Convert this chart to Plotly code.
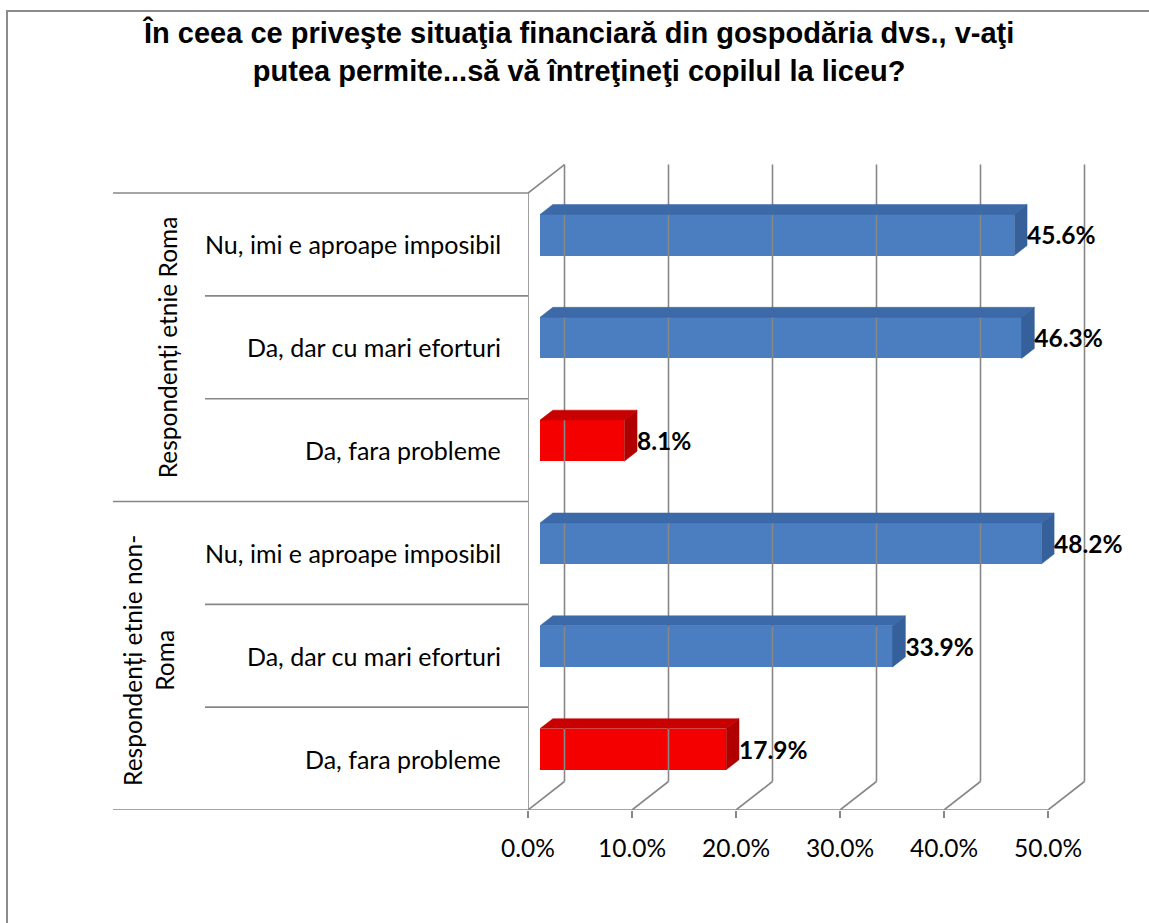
import plotly.graph_objects as go

# ---------------- data ----------------
groups = ["Respondenți etnie Roma", "Respondenți etnie non-<br>Roma"]
answers = ["Nu, imi e aproape imposibil", "Da, dar cu mari eforturi", "Da, fara probleme"]
roma_values = [45.6, 46.3, 8.1]
nonroma_values = [48.2, 33.9, 17.9]
tick_values = [0, 10, 20, 30, 40, 50]
tick_labels = ["0.0%", "10.0%", "20.0%", "30.0%", "40.0%", "50.0%"]
title_lines = ["În ceea ce priveşte situaţia financiară din gospodăria dvs., v-aţi",
               "putea permite...să vă întreţineţi copilul la liceu?"]

# ---------------- layout geometry ----------------
WIDTH, HEIGHT = 1149, 923
ML, MR, MT, MB = 528, 9, 150, 113
PW = WIDTH - ML - MR
PH = HEIGHT - MT - MB
XPX = 10.4          # px per percent
YPX = 102.83        # px per row
XMAX = PW / XPX
YMAX = PH / YPX
DX = 36.5 / XPX     # 3-D depth offset (x units)
DY = 28.5 / YPX     # 3-D depth offset (y units)
F1, F2 = 0.33, 0.68  # bar depth (front, back fractions)
BAR_H = 0.40

GRID = "#878787"
BLUE = dict(front="#4A7EC1", top="#3C69A8", side="#35609A")
RED = dict(front="#F50000", top="#C80000", side="#B00000")
FONT = "Lato"


def px_x(px):
    return (px - ML) / PW


def px_y(py):
    return (HEIGHT - MB - py) / PH


values = roma_values + nonroma_values
labels = answers + answers
centers = [5.5, 4.5, 3.5, 2.5, 1.5, 0.5]
palettes = [RED if a.startswith("Da, fara") else BLUE for a in labels]

fig = go.Figure()

# ---- 3-D walls / gridlines (derived from tick values) ----
gx, gy = [], []
for t in tick_values:
    gx += [t + DX, t + DX, None]
    gy += [DY, 6 + DY, None]
    gx += [t, t + DX, None]
    gy += [0, DY, None]
gx += [0, 0, None, 0, DX, None, 0, tick_values[-1], None]
gy += [0, 6, None, 6, 6 + DY, None, 0, 0, None]
fig.add_trace(go.Scatter(x=gx, y=gy, mode="lines", line=dict(color=GRID, width=1.6),
                         hoverinfo="skip", showlegend=False))

# ---- bars: top and side faces ----
for v, c, pal in zip(values, centers, palettes):
    x0 = F1 * DX
    x1 = F1 * DX + v
    yc = c + F1 * DY
    yt = yc + BAR_H / 2
    yb = yc - BAR_H / 2
    wdx = (F2 - F1) * DX
    wdy = (F2 - F1) * DY
    fig.add_trace(go.Scatter(x=[x0, x0 + wdx, x1 + wdx, x1, x0], y=[yt, yt + wdy, yt + wdy, yt, yt],
                             mode="lines", fill="toself", fillcolor=pal["top"],
                             line=dict(width=0.5, color=pal["top"]), hoverinfo="skip", showlegend=False))
    fig.add_trace(go.Scatter(x=[x1, x1 + wdx, x1 + wdx, x1, x1], y=[yt, yt + wdy, yb + wdy, yb, yt],
                             mode="lines", fill="toself", fillcolor=pal["side"],
                             line=dict(width=0.5, color=pal["side"]), hoverinfo="skip", showlegend=False))

# ---- value labels ----
fig.add_trace(go.Scatter(
    x=[v + F2 * DX for v in values], y=[c + 0.06 for c in centers],
    mode="text", text=[f"{v:.1f}%" for v in values], textposition="middle right",
    textfont=dict(family=FONT, size=24.5, color="black", weight="bold"),
    cliponaxis=False, hoverinfo="skip", showlegend=False))

# ---- bars: front faces ----
fig.add_trace(go.Bar(
    x=values, y=[c + F1 * DY for c in centers], base=F1 * DX, orientation="h",
    width=BAR_H, marker=dict(color=[p["front"] for p in palettes], line=dict(width=0)),
    hoverinfo="skip", showlegend=False))

# ---- category axis decoration ----
shapes = []
for y in [6, 3, 0]:
    shapes.append(dict(type="line", xref="paper", yref="y", x0=px_x(113), x1=0, y0=y, y1=y,
                       line=dict(color=GRID, width=1.6)))
for y in [5, 4, 2, 1]:
    shapes.append(dict(type="line", xref="paper", yref="y", x0=px_x(205), x1=0, y0=y, y1=y,
                       line=dict(color=GRID, width=1.6)))
shapes.append(dict(type="rect", xref="paper", yref="paper", x0=px_x(7), x1=px_x(1170),
                   y0=px_y(940), y1=px_y(11), line=dict(color="#8C8C8C", width=2)))

annotations = []
for lab, c in zip(labels, centers):
    annotations.append(dict(text=lab, xref="paper", yref="y", x=px_x(503), y=c,
                            xanchor="right", yanchor="middle", showarrow=False,
                            font=dict(family=FONT, size=25, color="black")))
annotations.append(dict(text=groups[0], xref="paper", yref="y", x=px_x(167), y=4.5,
                        textangle=-90, showarrow=False, xanchor="center", yanchor="middle",
                        font=dict(family=FONT, size=24.5, color="black")))
annotations.append(dict(text=groups[1], xref="paper", yref="y", x=px_x(149), y=1.45,
                        textangle=-90, showarrow=False, xanchor="center", yanchor="middle",
                        font=dict(family=FONT, size=24.5, color="black")))
annotations.append(dict(text="<br>".join(title_lines), xref="paper", yref="paper",
                        x=px_x(578), y=px_y(51), xanchor="center", yanchor="middle",
                        showarrow=False, align="center",
                        font=dict(family="Liberation Sans", size=29, color="black", weight="bold")))

fig.update_layout(
    width=WIDTH, height=HEIGHT,
    margin=dict(l=ML, r=MR, t=MT, b=MB),
    paper_bgcolor="white", plot_bgcolor="white",
    shapes=shapes, annotations=annotations,
    bargap=0,
    xaxis=dict(range=[0, XMAX], tickvals=tick_values, ticktext=tick_labels,
               showgrid=False, zeroline=False, showline=False,
               ticks="outside", ticklen=7, tickwidth=1.6, tickcolor=GRID,
               ticklabelstandoff=10,
               tickfont=dict(family=FONT, size=24.5, color="black"), fixedrange=True),
    yaxis=dict(range=[0, YMAX], showgrid=False, zeroline=False, showline=False,
               showticklabels=False, ticks="", fixedrange=True),
)

fig.write_html("out.html", config={"displayModeBar": False},
               post_script="document.body.style.margin='0px';document.body.style.overflow='hidden';")
